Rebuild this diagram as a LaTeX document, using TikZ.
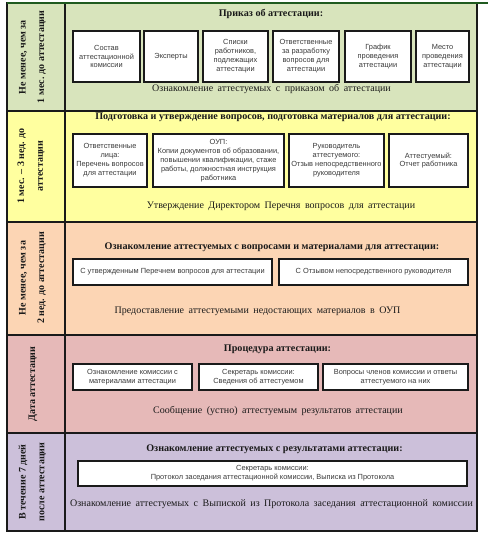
\documentclass[tikz,border=0pt]{standalone}
\usepackage{fontspec}
\setmainfont{Liberation Serif}
\newfontfamily\boxfont{Liberation Sans}
\newfontfamily\notefont[WordSpace=1.8]{Liberation Serif}
\definecolor{attink}{HTML}{1A1A1A}
\definecolor{attgrey}{HTML}{3A3A3A}
\definecolor{atttop}{HTML}{1F5A1F}
\definecolor{attgreen}{HTML}{D8E4BC}
\definecolor{attyellow}{HTML}{FFFF9F}
\definecolor{attpeach}{HTML}{FCD5B4}
\definecolor{attpink}{HTML}{E6B9B8}
\definecolor{attlilac}{HTML}{CCC0DA}
\tikzset{
  stage rule/.style={draw=attink, line width=1pt},
  stage label/.style={rotate=90, align=center, text=attink,
    font=\bfseries\fontsize{7.5}{14}\selectfont},
  stage title/.style={text=attink, font=\bfseries\fontsize{7.6}{9}\selectfont},
  stage note/.style={text=attink, font=\notefont\fontsize{7.5}{9}\selectfont},
  doc box/.style={draw=attink, line width=0.9pt, fill=white, align=center,
    inner sep=0.5pt, text=attgrey, font=\boxfont\fontsize{5.55}{6.7}\selectfont},
  doc size/.style 2 args={minimum width=#1*0.75pt, minimum height=#2*0.75pt},
}

\begin{document}
\begin{tikzpicture}[x=0.75pt, y=-0.75pt]
  \useasboundingbox (0,0) rectangle (496,540);

  % Not later than a month ahead: the order.
  \begin{scope}[shift={(0,3)}]
    \fill[attgreen] (7,0) rectangle (477,108);
    \node[stage label] (when1) at (32.5,54)
      {Не менее, чем за\\1 мес. до аттестации};
    \node[stage title] (title1) at (271,11) {Приказ об аттестации:};
    \node[doc box, doc size={67}{51}] (board) at (106.5,53.5)
      {Состав\\аттестационной\\комиссии};
    \node[doc box, doc size={54}{51}] (experts) at (171,53.5) {Эксперты};
    \node[doc box, doc size={65}{51}] (lists) at (235.5,53.5)
      {Списки\\работников,\\подлежащих\\аттестации};
    \node[doc box, doc size={66}{51}] (owners) at (306,53.5)
      {Ответственные\\за разработку\\вопросов для\\аттестации};
    \node[doc box, doc size={66}{51}] (schedule) at (378,53.5)
      {График\\проведения\\аттестации};
    \node[doc box, doc size={53}{51}] (place) at (442.5,53.5)
      {Место\\проведения\\аттестации};
    \node[stage note] (note1) at (271.5,86)
      {Ознакомление аттестуемых с приказом об аттестации};
  \end{scope}

  % One month to three weeks ahead: questions and materials.
  \begin{scope}[shift={(0,111)}]
    \fill[attyellow] (7,0) rectangle (477,111);
    \node[stage label] (when2) at (31,55)
      {1 мес. – 3 нед. до\\аттестации};
    \node[stage title] (title2) at (273,6)
      {Подготовка и утверждение вопросов, подготовка материалов для аттестации:};
    \node[doc box, doc size={74}{53}] (resp) at (110,49.5)
      {Ответственные\\лица:\\Перечень вопросов\\для аттестации};
    \node[doc box, doc size={131}{53}] (hr) at (218.5,49.5)
      {ОУП:\\Копии документов об образовании,\\повышении квалификации, стаже\\работы, должностная инструкция\\работника};
    \node[doc box, doc size={95}{53}] (head) at (336.5,49.5)
      {Руководитель\\аттестуемого:\\Отзыв непосредственного\\руководителя};
    \node[doc box, doc size={79}{53}] (person) at (428.5,49.5)
      {Аттестуемый:\\Отчет работника};
    \node[stage note] (note2) at (281,95)
      {Утверждение Директором Перечня вопросов для аттестации};
  \end{scope}

  % Two weeks ahead: review of the materials.
  \begin{scope}[shift={(0,222)}]
    \fill[attpeach] (7,0) rectangle (477,113);
    \node[stage label] (when3) at (32.5,56)
      {Не менее, чем за\\2 нед. до аттестации};
    \node[stage title] (title3) at (272,25)
      {Ознакомление аттестуемых с вопросами и материалами для аттестации:};
    \node[doc box, doc size={199}{26}] (questions) at (172.5,50)
      {С утвержденным Перечнем вопросов для аттестации};
    \node[doc box, doc size={189}{26}] (review) at (373.5,50)
      {С Отзывом непосредственного руководителя};
    \node[stage note] (note3) at (257.5,89)
      {Предоставление аттестуемыми недостающих материалов в ОУП};
  \end{scope}

  % The day itself.
  \begin{scope}[shift={(0,335)}]
    \fill[attpink] (7,0) rectangle (477,98);
    \node[stage label] (when4) at (33,49) {Дата аттестации};
    \node[stage title] (title4) at (277.5,14) {Процедура аттестации:};
    \node[doc box, doc size={119}{26}] (study) at (132.5,42)
      {Ознакомление комиссии с\\материалами аттестации};
    \node[doc box, doc size={119}{26}] (secretary) at (258.5,42)
      {Секретарь комиссии:\\Сведения об аттестуемом};
    \node[doc box, doc size={145}{26}] (answers) at (395.5,42)
      {Вопросы членов комиссии и ответы\\аттестуемого на них};
    \node[stage note] (note4) at (278,76)
      {Сообщение (устно) аттестуемым результатов аттестации};
  \end{scope}

  % Within seven days after: the results.
  \begin{scope}[shift={(0,433)}]
    \fill[attlilac] (7,0) rectangle (477,98);
    \node[stage label] (when5) at (32.5,49)
      {В течение 7 дней\\после аттестации};
    \node[stage title] (title5) at (274.5,16)
      {Ознакомление аттестуемых с результатами аттестации:};
    \node[doc box, doc size={389}{25}] (minutes) at (272.5,40.5)
      {Секретарь комиссии:\\Протокол заседания аттестационной комиссии, Выписка из Протокола};
    \node[stage note] (note5) at (271.5,71)
      {Ознакомление аттестуемых с Выпиской из Протокола заседания аттестационной комиссии};
  \end{scope}

  % Frame and rules.
  \draw[stage rule] (65,3) -- (65,531);
  \foreach \y in {111,222,335,433}
    \draw[stage rule] (7,\y) -- (477,\y);
  \draw[stage rule] (7,3) rectangle (477,531);
  \draw[atttop, line width=1pt] (7,3) -- (488,3);
\end{tikzpicture}
\end{document}
